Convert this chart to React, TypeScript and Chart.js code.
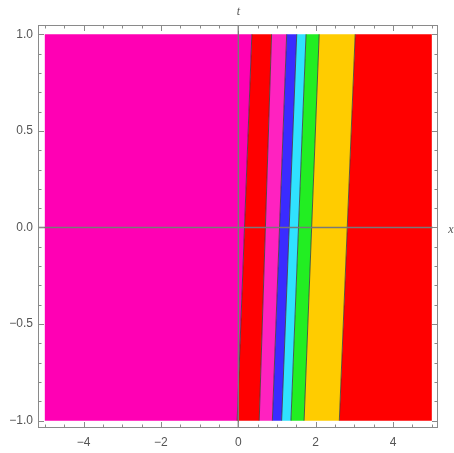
import React, { useEffect, useRef } from "react";
import { Chart, registerables } from "chart.js";

Chart.register(...registerables);

// x-positions of region boundaries at t = 1 (top) and t = -1 (bottom)
const boundaryTop = [0.35, 0.86, 1.25, 1.51, 1.75, 2.09, 3.02];
const boundaryBottom = [-0.03, 0.54, 0.88, 1.12, 1.36, 1.7, 2.61];
// colours of the bands from left to right
const bandColors = [
  "#ff00b4",
  "#ff0000",
  "#ff22c0",
  "#3a2bff",
  "#30e2ff",
  "#22ee22",
  "#ffcc00",
  "#ff0000",
];
const xRange = [-5, 5];
const tRange = [-1, 1];
const xTicks = [-4, -2, 0, 2, 4];
const yTicks = [-1, -0.5, 0, 0.5, 1];
const xMinorStep = 0.5;
const yMinorStep = 0.1;

function bandPolygon(i: number) {
  const lt = i === 0 ? xRange[0] : boundaryTop[i - 1];
  const lb = i === 0 ? xRange[0] : boundaryBottom[i - 1];
  const rt = i === bandColors.length - 1 ? xRange[1] : boundaryTop[i];
  const rb = i === bandColors.length - 1 ? xRange[1] : boundaryBottom[i];
  return [
    { x: lb, y: tRange[0] },
    { x: lt, y: tRange[1] },
    { x: rt, y: tRange[1] },
    { x: rb, y: tRange[0] },
    { x: lb, y: tRange[0] },
  ];
}

const framePlugin = {
  id: "framePlugin",
  afterDatasetsDraw(chart: any) {
    const { ctx, chartArea: a, scales } = chart;
    const xs = scales.x;
    const ys = scales.y;
    ctx.save();
    // axes through origin
    ctx.strokeStyle = "rgba(120,120,120,1)";
    ctx.lineWidth = 1.4;
    const x0 = xs.getPixelForValue(0);
    const y0 = ys.getPixelForValue(0);
    ctx.beginPath();
    ctx.moveTo(x0, a.top);
    ctx.lineTo(x0, a.bottom);
    ctx.moveTo(a.left, y0);
    ctx.lineTo(xs.getPixelForValue(xRange[1]) + 1, y0);
    ctx.stroke();

    // frame
    ctx.strokeStyle = "#8a8a8a";
    ctx.lineWidth = 1;
    ctx.strokeRect(a.left + 0.5, a.top + 0.5, a.right - a.left - 1, a.bottom - a.top - 1);

    // ticks
    ctx.beginPath();
    const xmin = Math.ceil(xs.min / xMinorStep);
    const xmax = Math.floor(xs.max / xMinorStep);
    for (let k = xmin; k <= xmax; k++) {
      const v = k * xMinorStep;
      const major = xTicks.some((t) => Math.abs(t - v) < 1e-6);
      const len = major ? 6 : 3.5;
      const px = Math.round(xs.getPixelForValue(v)) + 0.5;
      ctx.moveTo(px, a.bottom);
      ctx.lineTo(px, a.bottom - len);
      ctx.moveTo(px, a.top);
      ctx.lineTo(px, a.top + len);
    }
    const ymin = Math.ceil(ys.min / yMinorStep - 1e-6);
    const ymax = Math.floor(ys.max / yMinorStep + 1e-6);
    for (let k = ymin; k <= ymax; k++) {
      const v = k * yMinorStep;
      const major = yTicks.some((t) => Math.abs(t - v) < 1e-6);
      const len = major ? 6 : 3.5;
      const py = Math.round(ys.getPixelForValue(v)) + 0.5;
      ctx.moveTo(a.left, py);
      ctx.lineTo(a.left + len, py);
      ctx.moveTo(a.right, py);
      ctx.lineTo(a.right - len, py);
    }
    ctx.stroke();

    // axis labels
    ctx.fillStyle = "#555";
    ctx.font = "italic 12px 'Liberation Serif'";
    ctx.textAlign = "center";
    ctx.textBaseline = "middle";
    ctx.fillText("t", x0, 12);
    ctx.fillText("x", a.right + 13, y0 + 2);
    ctx.restore();
  },
};

export default function App() {
  const ref = useRef<HTMLCanvasElement | null>(null);
  useEffect(() => {
    document.body.style.margin = "0";
    const canvas = ref.current;
    if (!canvas) return;
    const datasets: any[] = bandColors.map((c, i) => ({
      data: bandPolygon(i),
      backgroundColor: c,
      borderColor: c,
      borderWidth: 0,
      pointRadius: 0,
      fill: "shape",
      tension: 0,
      order: 2,
    }));
    boundaryTop.forEach((bt, i) => {
      datasets.push({
        data: [
          { x: boundaryBottom[i], y: tRange[0] },
          { x: bt, y: tRange[1] },
        ],
        borderColor: "rgba(60,60,60,0.8)",
        borderWidth: 1,
        pointRadius: 0,
        fill: false,
        order: 1,
      });
    });
    const tickFont = { family: "'Liberation Sans', sans-serif", size: 12 };
    const chart = new Chart(canvas, {
      type: "line",
      data: { datasets },
      options: {
        animation: false,
        responsive: false,
        events: [],
        layout: { padding: { top: 25, right: 16, left: 0, bottom: 0 } },
        plugins: { legend: { display: false }, tooltip: { enabled: false } },
        scales: {
          x: {
            type: "linear",
            min: -5.176,
            max: 5.16,
            grid: { display: false, drawTicks: false },
            border: { display: false },
            afterBuildTicks: (s: any) => {
              s.ticks = xTicks.map((v) => ({ value: v }));
            },
            afterFit: (s: any) => {
              s.height = 25;
            },
            ticks: {
              padding: 7,
              color: "#555",
              font: tickFont,
              maxRotation: 0,
              autoSkip: false,
              callback: (v: any) => (Number(v) < 0 ? "\u2212" + Math.abs(Number(v)) : String(v)),
            },
          },
          y: {
            type: "linear",
            min: -1.038,
            max: 1.048,
            grid: { display: false, drawTicks: false },
            border: { display: false },
            afterBuildTicks: (s: any) => {
              s.ticks = yTicks.map((v) => ({ value: v }));
            },
            afterFit: (s: any) => {
              s.width = 38;
            },
            ticks: {
              padding: 5,
              color: "#555",
              font: tickFont,
              autoSkip: false,
              callback: (v: any) =>
                Number(v) < 0 ? "\u2212" + Math.abs(Number(v)).toFixed(1) : Number(v).toFixed(1),
            },
          },
        },
      },
      plugins: [framePlugin],
    } as any);
    return () => chart.destroy();
  }, []);
  return (
    <div style={{ position: "absolute", left: 0, top: 0, width: 454, height: 453 }}>
      <canvas ref={ref} width={454} height={453} />
    </div>
  );
}
